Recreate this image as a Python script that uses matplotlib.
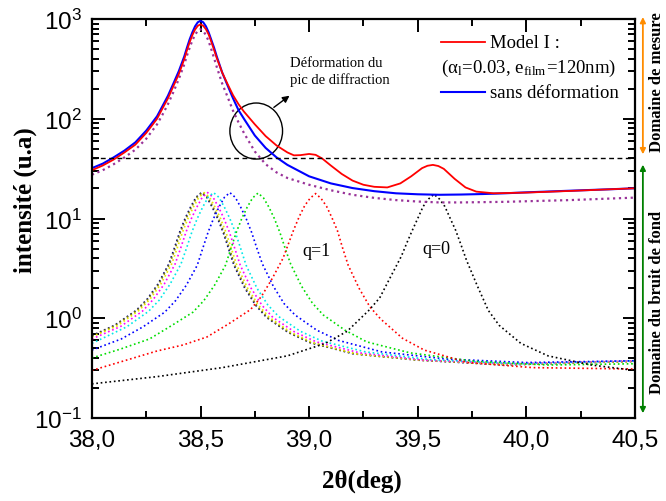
import numpy as np
import matplotlib
matplotlib.use('Agg')
import matplotlib.pyplot as plt
from matplotlib.ticker import FixedLocator, FixedFormatter, MultipleLocator
from matplotlib.patches import Ellipse

plt.rcParams['font.family'] = ['Liberation Sans', 'DejaVu Sans']
plt.rcParams['mathtext.fontset'] = 'stix'

SERIF = ['Liberation Serif', 'DejaVu Serif']

# --- data ---
xticks = [38.0, 38.5, 39.0, 39.5, 40.0, 40.5]
xtick_labels = ['38,0', '38,5', '39,0', '39,5', '40,0', '40,5']
level_mesure = 40

# sans deformation (blue) and dotted purple share one grid
main_x = [38.0, 38.05, 38.1, 38.15, 38.2, 38.25, 38.3, 38.325, 38.35, 38.375, 38.4,
          38.425, 38.4375, 38.45, 38.4625, 38.475, 38.4875, 38.5, 38.5125, 38.525, 38.5375,
          38.55, 38.5625, 38.575, 38.6, 38.625, 38.65, 38.675, 38.7, 38.75, 38.8, 38.85, 38.9,
          39.0, 39.1, 39.2, 39.3, 39.4, 39.5, 39.6, 39.7, 39.8, 39.9, 40.0, 40.2, 40.4, 40.5]
blue_y = [32, 35.5, 41, 48, 58, 76, 106, 134, 170, 225, 300,
          420, 515, 625, 735, 845, 928, 960, 928, 845, 735,
          615, 515, 420, 290, 215, 160, 122, 100, 68, 51, 41, 34.5,
          26.5, 22.5, 20.2, 18.8, 17.9, 17.5, 17.3, 17.4, 17.6, 17.9, 18.3, 19.0, 19.7, 20.1]
purple_y = [27.5, 30.5, 35, 41, 49, 63, 88, 110, 140, 185, 250,
            350, 430, 515, 610, 695, 765, 790, 760, 690, 600,
            495, 405, 330, 225, 165, 120, 92, 72, 47, 35, 29, 25.5,
            21.8, 19.2, 17.3, 16.1, 15.3, 14.8, 14.5, 14.5, 14.6, 14.7, 14.9, 15.3, 15.9, 16.2]

# Model I (red)
red_x = [38.0, 38.05, 38.1, 38.15, 38.2, 38.25, 38.3, 38.325, 38.35, 38.375, 38.4,
         38.425, 38.4375, 38.45, 38.4625, 38.475, 38.4875, 38.5, 38.5125, 38.525, 38.5375,
         38.55, 38.5625, 38.575, 38.6, 38.625, 38.65, 38.675, 38.7, 38.75, 38.8, 38.85, 38.9,
         38.93, 38.96, 39.0, 39.03, 39.06, 39.1, 39.15, 39.2, 39.25, 39.3, 39.36,
         39.42, 39.47, 39.52, 39.545, 39.57, 39.595, 39.62, 39.67, 39.72, 39.77, 39.85,
         40.0, 40.2, 40.4, 40.5]
red_y = [30.5, 34, 39, 46, 55, 72, 100, 127, 160, 212, 280,
         395, 485, 585, 690, 785, 855, 885, 855, 790, 700,
         590, 490, 405, 290, 222, 172, 140, 118, 88, 67, 54, 46,
         43, 43.2, 44.4, 43.5, 40, 34, 28, 24, 21.8, 20.8, 20.5,
         22.5, 26.5, 32, 33.8, 34.5, 33.6, 31.5, 25, 20.5, 18.6, 17.9,
         18.2, 18.9, 19.7, 20.1]

# individual q contributions (dotted)
q8_x = [38.0, 38.104, 38.204, 38.254, 38.304, 38.354, 38.379, 38.404, 38.429, 38.454, 38.479,
        38.504, 38.529, 38.554, 38.579, 38.604, 38.629, 38.654, 38.704, 38.754, 38.804,
        38.904, 39.004, 39.204, 39.504, 39.904, 40.5]
q8_y = [0.67, 0.85, 1.2, 1.55, 2.2, 3.5, 5.0, 7.3, 10.0, 13.0, 16.3,
        18.2, 16.3, 13.0, 10.0, 7.3, 5.0, 3.4, 2.0, 1.35, 1.02,
        0.72, 0.57, 0.44, 0.38, 0.34, 0.37]
q7_x = [38.0, 38.108, 38.208, 38.258, 38.308, 38.358, 38.383, 38.408, 38.433, 38.458, 38.483,
        38.508, 38.533, 38.558, 38.583, 38.608, 38.633, 38.658, 38.708, 38.758, 38.808,
        38.908, 39.008, 39.208, 39.508, 39.908, 40.5]
q7_y = [0.66, 0.85, 1.2, 1.55, 2.2, 3.5, 5.0, 7.3, 10.0, 13.0, 16.3,
        18.2, 16.3, 13.0, 10.0, 7.3, 5.0, 3.4, 2.0, 1.35, 1.02,
        0.72, 0.57, 0.44, 0.38, 0.345, 0.37]
q6_x = [38.0, 38.117, 38.217, 38.267, 38.317, 38.367, 38.392, 38.417, 38.442, 38.467, 38.492,
        38.517, 38.542, 38.567, 38.592, 38.617, 38.642, 38.667, 38.717, 38.767, 38.817,
        38.917, 39.017, 39.217, 39.517, 39.917, 40.5]
q6_y = [0.65, 0.84, 1.2, 1.55, 2.2, 3.5, 5.0, 7.3, 10.0, 13.0, 16.3,
        18.2, 16.3, 13.0, 10.0, 7.3, 5.0, 3.4, 2.0, 1.35, 1.02,
        0.72, 0.57, 0.44, 0.38, 0.345, 0.37]
q5_x = [38.0, 38.133, 38.233, 38.283, 38.333, 38.383, 38.408, 38.433, 38.458, 38.483, 38.508,
        38.533, 38.558, 38.583, 38.608, 38.633, 38.658, 38.683, 38.733, 38.783, 38.833,
        38.933, 39.033, 39.233, 39.533, 39.933, 40.5]
q5_y = [0.62, 0.83, 1.18, 1.55, 2.2, 3.5, 5.0, 7.3, 10.0, 13.0, 16.3,
        18.2, 16.3, 13.0, 10.0, 7.3, 5.0, 3.4, 2.0, 1.35, 1.02,
        0.73, 0.58, 0.45, 0.38, 0.35, 0.375]
q4_x = [38.0, 38.16, 38.26, 38.31, 38.36, 38.41, 38.435, 38.46, 38.485, 38.51, 38.535,
        38.56, 38.585, 38.61, 38.635, 38.66, 38.685, 38.71, 38.76, 38.81, 38.86,
        38.96, 39.06, 39.26, 39.56, 39.96, 40.5]
q4_y = [0.56, 0.82, 1.17, 1.52, 2.2, 3.5, 5.0, 7.3, 10.0, 13.0, 16.3,
        18.2, 16.3, 13.0, 10.0, 7.3, 5.0, 3.4, 2.0, 1.36, 1.04,
        0.74, 0.59, 0.46, 0.385, 0.35, 0.375]
q3_x = [38.0, 38.135, 38.235, 38.335, 38.385, 38.435, 38.485, 38.51, 38.535, 38.56, 38.585,
        38.61, 38.635, 38.66, 38.685, 38.71, 38.735, 38.76, 38.785, 38.835, 38.885,
        38.935, 39.035, 39.135, 39.335, 39.635, 40.0, 40.5]
q3_y = [0.48, 0.62, 0.82, 1.15, 1.5, 2.15, 3.4, 5.0, 7.3, 10.0, 13.0,
        16.3, 18.2, 16.3, 13.0, 10.0, 7.3, 5.0, 3.5, 2.1, 1.4,
        1.08, 0.76, 0.6, 0.46, 0.39, 0.36, 0.375]
q2_x = [38.0, 38.13, 38.265, 38.365, 38.465, 38.515, 38.565, 38.615, 38.64, 38.665, 38.69,
        38.715, 38.74, 38.765, 38.79, 38.815, 38.84, 38.865, 38.89, 38.915, 38.965,
        39.015, 39.065, 39.165, 39.265, 39.465, 39.765, 40.1, 40.5]
q2_y = [0.40, 0.49, 0.62, 0.84, 1.15, 1.5, 2.15, 3.4, 5.0, 7.3, 10.0,
        13.0, 16.1, 18.0, 16.1, 13.0, 10.0, 7.3, 5.0, 3.5, 2.1,
        1.42, 1.08, 0.76, 0.58, 0.45, 0.37, 0.34, 0.35]
q1_x = [38.0, 38.3, 38.42, 38.53, 38.63, 38.73, 38.78, 38.83, 38.88, 38.905, 38.93,
        38.955, 38.98, 39.005, 39.03, 39.055, 39.08, 39.105, 39.13, 39.155, 39.18,
        39.23, 39.28, 39.33, 39.43, 39.53, 39.73, 40.03, 40.5]
q1_y = [0.30, 0.47, 0.54, 0.65, 0.88, 1.22, 1.65, 2.5, 4.0, 5.6, 7.8,
        10.5, 13.5, 16.0, 17.8, 15.9, 13.3, 10.2, 7.6, 5.0, 3.4,
        2.0, 1.3, 0.98, 0.63, 0.48, 0.36, 0.32, 0.31]
q0_x = [38.0, 38.3, 38.6, 38.9, 39.075, 39.175, 39.275, 39.325, 39.375, 39.4, 39.425,
        39.45, 39.475, 39.5, 39.525, 39.55, 39.575, 39.6, 39.625, 39.65, 39.675,
        39.7, 39.725, 39.775, 39.825, 39.875, 39.975, 40.1, 40.3, 40.5]
q0_y = [0.22, 0.26, 0.32, 0.42, 0.56, 0.74, 1.2, 1.6, 2.6, 3.3, 4.2,
        5.7, 7.6, 10.0, 13.2, 15.7, 17.5, 15.7, 13.2, 10.0, 7.6,
        5.4, 3.8, 2.1, 1.2, 0.85, 0.56, 0.42, 0.34, 0.30]

q_curves = [(q8_x, q8_y, '#000080'), (q7_x, q7_y, '#808000'), (q6_x, q6_y, '#E8E800'),
            (q5_x, q5_y, '#FF00FF'), (q4_x, q4_y, '#00E8E8'), (q3_x, q3_y, '#0000FF'),
            (q2_x, q2_y, '#00DD00'), (q1_x, q1_y, '#FF0000'), (q0_x, q0_y, '#000000')]

fig = plt.figure(figsize=(6.66, 5.02), dpi=100)
ax = fig.add_axes([0.138, 0.1653, 0.8153, 0.7948])

for qx, qy, col in q_curves:
    ax.plot(qx, qy, ls=':', lw=1.2, color=col)

ax.plot(main_x, purple_y, ls=':', lw=1.6, color='#993399')
ax.plot(main_x, blue_y, color='#0000FF', lw=1.5)
ax.plot(red_x, red_y, color='#FF0000', lw=1.3)
ax.axhline(level_mesure, color='k', lw=1.0, dashes=(3.5, 2.5))

ax.set_yscale('log')
ax.set_xlim(38.0, 40.5)
ax.set_ylim(0.1, 1000)
ax.xaxis.set_major_locator(FixedLocator(xticks))
ax.xaxis.set_major_formatter(FixedFormatter(xtick_labels))
ax.xaxis.set_minor_locator(MultipleLocator(0.25))
ax.tick_params(which='both', direction='in', top=True, right=True, width=1.4)
ax.tick_params(which='major', length=9, labelsize=17.5)
ax.tick_params(which='minor', length=5)
ax.tick_params(axis='x', pad=8)
ax.tick_params(axis='y', pad=7)
for s in ax.spines.values():
    s.set_linewidth(1.6)

# q labels
ax.text(39.035, 4.75, 'q=1', family=SERIF, fontsize=13, ha='center', va='center')
ax.text(39.587, 4.95, 'q=0', family=SERIF, fontsize=13, ha='center', va='center')

# circle + arrow on the deformed peak
ax.add_patch(Ellipse((0.3026, 0.7193), 0.097, 0.1404, transform=ax.transAxes,
                     fill=False, ec='k', lw=1.0))
ax.annotate('', xy=(0.368, 0.812), xytext=(0.331, 0.7744), xycoords='axes fraction',
            arrowprops=dict(arrowstyle='-|>', color='k', lw=1.0, mutation_scale=10))
ax.text(0.3646, 0.8697, 'Déformation du\npic de diffraction', transform=ax.transAxes,
        family=SERIF, fontsize=10.5, ha='left', va='center', linespacing=1.35)

# legend drawn by hand
ax.plot([0.6427, 0.7238], [0.9424, 0.9424], color='#FF0000', lw=1.3, transform=ax.transAxes)
ax.text(0.733, 0.9424, 'Model I :', transform=ax.transAxes, family=SERIF, fontsize=13.5,
        ha='left', va='center')
ax.text(0.6427, 0.8797, '(α$_{\\mathdefault{l}}$=0.03, e$_{\\mathdefault{film}}$=120nm)',
        transform=ax.transAxes, family=SERIF, fontsize=13.5, ha='left', va='center')
ax.plot([0.6427, 0.7238], [0.817, 0.817], color='#0000FF', lw=1.5, transform=ax.transAxes)
ax.text(0.733, 0.817, 'sans déformation', transform=ax.transAxes, family=SERIF, fontsize=13.5,
        ha='left', va='center')

# domain arrows on the right
ax.annotate('', xy=(1.0147, 1.012), xytext=(1.0147, 0.654), xycoords='axes fraction',
            arrowprops=dict(arrowstyle='<|-|>', color='darkorange', lw=1.3, mutation_scale=8),
            annotation_clip=False)
ax.annotate('', xy=(1.0147, 0.642), xytext=(1.0147, 0.005), xycoords='axes fraction',
            arrowprops=dict(arrowstyle='<|-|>', color='green', lw=1.3, mutation_scale=8),
            annotation_clip=False)
fig.text(657 / 666, 1 - 82 / 502, 'Domaine de mesure', rotation=90, family=SERIF,
         fontweight='bold', fontsize=12, ha='center', va='center')
fig.text(657 / 666, 1 - 302 / 502, 'Domaine du bruit de fond', rotation=90, family=SERIF,
         fontweight='bold', fontsize=12, ha='center', va='center')

# axis titles
fig.text(25 / 666, 1 - 200 / 502, 'intensité (u.a)', rotation=90, family=SERIF,
         fontweight='bold', fontsize=18, ha='center', va='center')
fig.text(362 / 666, 1 - 481 / 502, '2θ(deg)', family=SERIF, fontweight='bold', fontsize=18,
         ha='center', va='center')

fig.savefig('out.png', dpi=100)
